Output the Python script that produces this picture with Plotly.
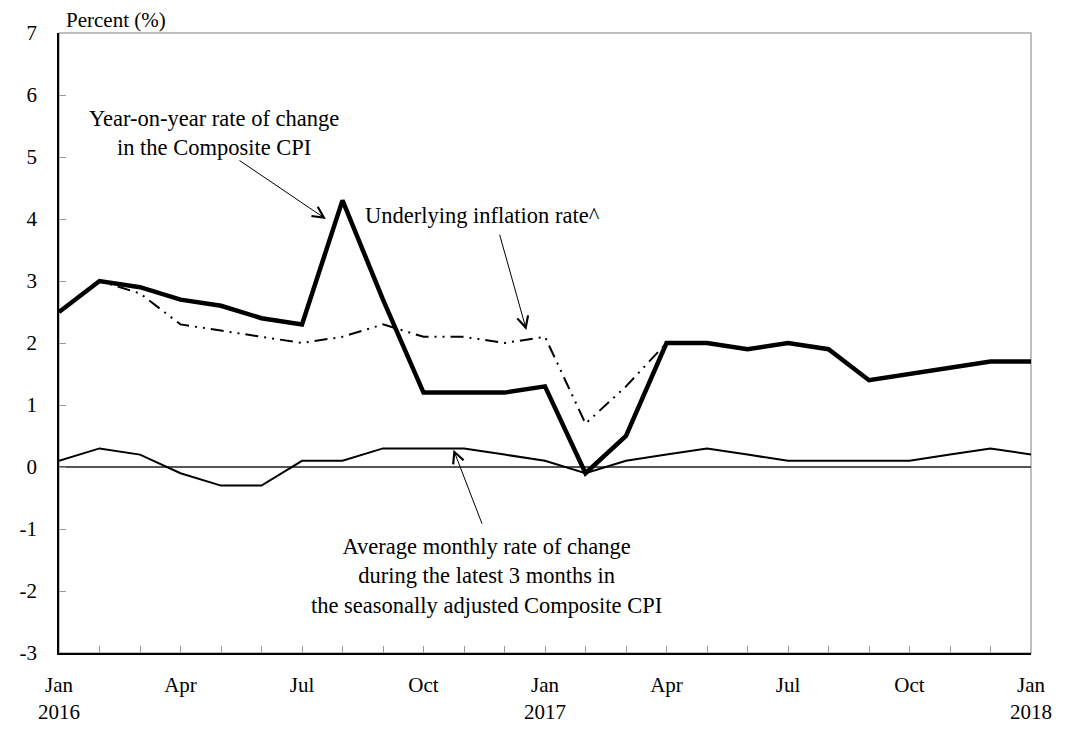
import plotly.graph_objects as go

months = ["2016-01", "2016-02", "2016-03", "2016-04", "2016-05", "2016-06",
          "2016-07", "2016-08", "2016-09", "2016-10", "2016-11", "2016-12",
          "2017-01", "2017-02", "2017-03", "2017-04", "2017-05", "2017-06",
          "2017-07", "2017-08", "2017-09", "2017-10", "2017-11", "2017-12",
          "2018-01"]

yoy = [2.5, 3.0, 2.9, 2.7, 2.6, 2.4, 2.3, 4.3, 2.7, 1.2, 1.2, 1.2,
       1.3, -0.1, 0.5, 2.0, 2.0, 1.9, 2.0, 1.9, 1.4, 1.5, 1.6, 1.7, 1.7]

underlying = [2.5, 3.0, 2.8, 2.3, 2.2, 2.1, 2.0, 2.1, 2.3, 2.1, 2.1, 2.0,
              2.1, 0.7, 1.3, 2.0, 2.0, 1.9, 2.0, 1.9, 1.4, 1.5, 1.6, 1.7, 1.7]

avg3m = [0.1, 0.3, 0.2, -0.1, -0.3, -0.3, 0.1, 0.1, 0.3, 0.3, 0.3, 0.2,
         0.1, -0.1, 0.1, 0.2, 0.3, 0.2, 0.1, 0.1, 0.1, 0.1, 0.2, 0.3, 0.2]

x_ticktext = ["Jan<br>2016", "", "", "Apr", "", "", "Jul", "", "", "Oct", "", "",
              "Jan<br>2017", "", "", "Apr", "", "", "Jul", "", "", "Oct", "", "",
              "Jan<br>2018"]

y_tickvals = [-3, -2, -1, 0, 1, 2, 3, 4, 5, 6, 7]
y_ticktext = ["-3", "-2", "-1", "0", "1", "2", "3", "4", "5", "6", "7"]

FONT = "Liberation Serif"

fig = go.Figure()
fig.add_trace(go.Scatter(x=months, y=avg3m, mode="lines",
                         line=dict(color="black", width=2), showlegend=False))
fig.add_trace(go.Scatter(x=months, y=underlying, mode="lines",
                         line=dict(color="black", width=2,
                                   dash="13px,6px,2px,6px,2px,6px"),
                         showlegend=False))
fig.add_trace(go.Scatter(x=months, y=yoy, mode="lines",
                         line=dict(color="black", width=4.5), showlegend=False))

# page body has an 8px default margin; figure sized to fit the window
fig.update_layout(
    width=1056, height=728,
    margin=dict(l=40, r=18, t=25, b=56),
    paper_bgcolor="white", plot_bgcolor="white",
    font=dict(family=FONT, size=22.5, color="black"),
    xaxis=dict(type="category", range=[0, 24], tickmode="array",
               tickvals=months, ticktext=x_ticktext,
               ticks="inside", ticklen=7, tickcolor="#9a9a9a", tickwidth=1,
               showgrid=False, zeroline=False,
               showline=True, linecolor="black", linewidth=1.5,
               ticklabelstandoff=12, tickfont=dict(family=FONT, size=21)),
    yaxis=dict(range=[-3, 7], tickmode="array", tickvals=y_tickvals,
               ticktext=y_ticktext,
               ticks="inside", ticklen=7, tickcolor="#9a9a9a", tickwidth=1,
               showgrid=False, zeroline=True, zerolinecolor="#555555",
               zerolinewidth=1.5,
               showline=True, linecolor="black", linewidth=1.5,
               ticklabelstandoff=16, tickfont=dict(family=FONT, size=21)),
    shapes=[dict(type="rect", xref="paper", yref="paper", x0=0, x1=1, y0=0, y1=1,
                 line=dict(color="#aaaaaa", width=1.5), layer="below")],
)

annotations = [
    dict(text="Percent (%)", xref="paper", yref="paper", x=0.005, y=1,
         xanchor="left", yanchor="middle", yshift=13, showarrow=False,
         font=dict(family=FONT, size=21)),
    dict(text="Year-on-year rate of change<br>in the Composite CPI",
         x=3.82, y=5.39, xref="x", yref="y", showarrow=False,
         align="center"),
    dict(text="Underlying inflation rate^", x=10.46, y=4.06, xref="x", yref="y",
         showarrow=False),
    dict(text="Average monthly rate of change<br>during the latest 3 months in"
              "<br>the seasonally adjusted Composite CPI",
         x=10.55, y=-1.75, xref="x", yref="y", showarrow=False, align="center"),
    # arrows
    dict(text="", x=6.59, y=4.00, ax=4.42, ay=4.96, xref="x", yref="y",
         axref="x", ayref="y", showarrow=True, arrowhead=5, arrowsize=2.2,
         arrowwidth=1, arrowcolor="black"),
    dict(text="", x=11.54, y=2.21, ax=10.87, ay=3.77, xref="x", yref="y",
         axref="x", ayref="y", showarrow=True, arrowhead=5, arrowsize=2.2,
         arrowwidth=1, arrowcolor="black"),
    dict(text="", x=9.74, y=0.28, ax=10.46, ay=-0.94, xref="x", yref="y",
         axref="x", ayref="y", showarrow=True, arrowhead=5, arrowsize=2.2,
         arrowwidth=1, arrowcolor="black"),
]
fig.update_layout(annotations=annotations)

fig.write_html("out.html")
